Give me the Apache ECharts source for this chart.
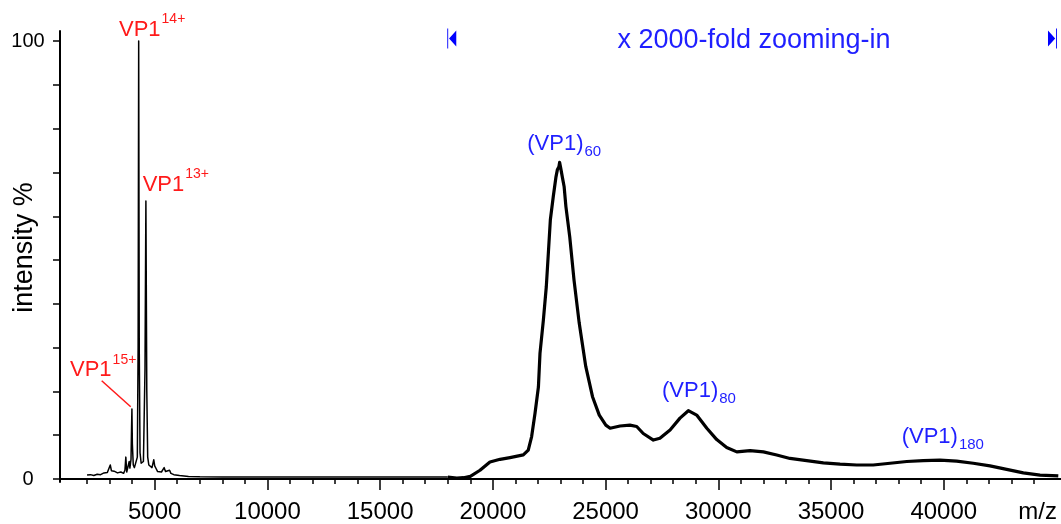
<!DOCTYPE html>
<html>
<head>
<meta charset="utf-8">
<title>VP1 native MS</title>
<script src="https://cdn.jsdelivr.net/npm/echarts@6/dist/echarts.min.js"></script>
<style>
html, body { margin: 0; padding: 0; background: #fff; }
#chart { width: 1061px; height: 524px; }
</style>
</head>
<body>
<div id="chart"></div>
<script>
// 低 m/z 区（原始强度 %）
const lowMz = [2000, 2150, 2300, 2450, 2600, 2750, 2900, 2980, 3030, 3080, 3200, 3350, 3500, 3620, 3680, 3720, 3760, 3830, 3870, 3900,
    3950, 3975, 3990, 4010, 4050, 4100, 4170, 4230, 4265, 4290, 4315, 4350, 4400, 4450, 4500, 4570, 4610, 4650, 4690, 4740,
    4800, 4880, 4960, 5000, 5060, 5130, 5200, 5300, 5420, 5480, 5560, 5660, 5720, 5850, 6100, 6500, 7000, 8000, 10000, 14000, 18000];
const lowInt = [0.9, 1.0, 0.8, 1.1, 1.0, 1.4, 1.5, 1.7, 3.2, 1.9, 1.8, 1.4, 1.6, 1.3, 2.0, 5.0, 1.6, 1.8, 4.0, 2.5,
    4.5, 12, 16, 8, 3.2, 2.6, 3.0, 5, 30, 100, 30, 6, 3.6, 3.2, 4, 25, 63.5, 20, 5, 3.2,
    2.8, 2.6, 4.4, 3.0, 2.4, 1.7, 1.9, 1.6, 2.6, 1.7, 1.7, 2.0, 1.3, 1.0, 0.8, 0.6, 0.5, 0.45, 0.45, 0.45, 0.45];

// 高 m/z 区（放大 2000 倍后的强度）
const highMz = [18000, 18400, 18700, 19000, 19430, 19870, 20320, 20760, 21350, 21570, 21720, 21870, 22020, 22090, 22240, 22370, 22460, 22550, 22680, 22800,
    22860, 22930, 22960, 23010, 23090, 23160, 23240, 23410, 23600, 23830, 24120, 24420, 24720, 25010, 25200, 25640, 26080, 26380, 26670, 27120,
    27410, 27860, 28300, 28670, 29040, 29490, 29930, 30370, 30820, 31410, 32000, 32590, 33180, 33920, 34660, 35400, 36140, 36870, 37620, 38360,
    39090, 39830, 40570, 41310, 42050, 42790, 43530, 44270, 45080];
const highInt = [0.45, 0.2, 0.3, 0.6, 2.0, 3.9, 4.5, 4.9, 5.5, 6.6, 9.7, 15.0, 21, 28.7, 36.3, 43.9, 51.5, 59.2, 64.5, 69.0,
    70.6, 71.3, 72.3, 71, 68.7, 66.8, 62.2, 55.3, 45.4, 35.6, 25.7, 18.8, 14.6, 12.3, 11.6, 12.1, 12.3, 12, 10.4, 8.9,
    9.3, 11.2, 13.9, 15.6, 14.6, 11.6, 9.0, 7.2, 6.2, 6.5, 6.2, 5.5, 4.7, 4.2, 3.7, 3.4, 3.2, 3.2, 3.6, 4.0,
    4.2, 4.3, 4.1, 3.6, 3.0, 2.2, 1.4, 0.9, 0.7];

// 坐标轴刻度
const xMinorTicks = [];
for (let v = 2000; v <= 44000; v += 1000) xMinorTicks.push(v);
const xLabelTicks = [5000, 10000, 15000, 20000, 25000, 30000, 35000, 40000];
const yTicks = [0, 10, 20, 30, 40, 50, 60, 70, 80, 90, 100];
const yLabelTicks = [0, 100];

// 放大区间
const zoomRange = [18000, 45000];
const zoomText = 'x 2000-fold zooming-in';
const zoomTextAt = [31583, 100.1];

// 单体电荷态标注（红）
const ionNames = ['VP1', 'VP1', 'VP1'];
const ionCharges = ['14+', '13+', '15+'];
const ionLabelMz = [3417, 4468, 1244];
const ionLabelInt = [102.5, 67.2, 24.8];
const leaderStart = [2650, 22.45];
const leaderEnd = [3936, 16.5];

// 组装体标注（蓝）
const asmNames = ['(VP1)', '(VP1)', '(VP1)'];
const asmCounts = ['60', '80', '180'];
const asmLabelMz = [21527, 27502, 38134];
const asmLabelInt = [76.4, 20.0, 9.5];

const FONT = '"Liberation Sans", Arial, sans-serif';
const RED = '#ff1a1a';
const BLUE = '#1f1fff';

function pairs(xs, ys) {
    const out = [];
    for (let i = 0; i < xs.length; i++) out.push([xs[i], ys[i]]);
    return out;
}

const chart = echarts.init(document.getElementById('chart'));

const option = {
    animation: false,
    backgroundColor: '#fff',
    grid: { left: 60, right: 0, top: 31, bottom: 42, containLabel: false, outerBoundsMode: 'none' },
    xAxis: [
        {
            type: 'value', min: 800, max: 45200, position: 'bottom',
            axisLine: { show: true, lineStyle: { color: '#000', width: 2 } },
            axisTick: { show: true, customValues: xMinorTicks, length: 5, lineStyle: { color: '#000', width: 1.5 } },
            axisLabel: { show: false },
            splitLine: { show: false }
        },
        {
            type: 'value', min: 800, max: 45200, position: 'bottom',
            axisLine: { show: false },
            axisTick: { show: true, customValues: xLabelTicks, length: 8, lineStyle: { color: '#000', width: 1.5 } },
            axisLabel: {
                customValues: xLabelTicks, fontSize: 24, fontFamily: FONT, color: '#000', margin: 18,
                formatter: function(v) { return String(v); }
            },
            splitLine: { show: false },
            name: 'm/z', nameLocation: 'end', nameGap: 0, nameMoveOverlap: false,
            nameTextStyle: { fontSize: 24, fontFamily: FONT, color: '#000', align: 'right', verticalAlign: 'top', padding: [18, 4, 0, 0] }
        }
    ],
    yAxis: {
        type: 'value', min: -0.68, max: 102.3,
        axisLine: { show: true, lineStyle: { color: '#000', width: 2 } },
        axisTick: { show: true, customValues: yTicks, length: 7, lineStyle: { color: '#000', width: 1.5 } },
        axisLabel: {
            customValues: yLabelTicks, fontSize: 20, fontFamily: FONT, color: '#000', align: 'center', margin: 32,
            formatter: function(v) { return String(v); }
        },
        splitLine: { show: false },
        name: 'intensity %', nameLocation: 'middle', nameGap: 22, nameMoveOverlap: false,
        nameTextStyle: { fontSize: 27, fontFamily: FONT, color: '#000', padding: [0, 0, 0, 18] }
    },
    series: [
        {
            name: 'low', type: 'line', data: pairs(lowMz, lowInt),
            symbol: 'none', xAxisIndex: 0, yAxisIndex: 0,
            lineStyle: { color: '#000', width: 1.5, join: 'round' },
            markLine: {
                silent: true, symbol: ['none', 'none'], animation: false,
                label: { show: false },
                lineStyle: { color: RED, width: 1.5, type: 'solid' },
                data: [[{ coord: leaderStart }, { coord: leaderEnd }]]
            }
        },
        {
            name: 'high', type: 'line', data: pairs(highMz, highInt),
            symbol: 'none', xAxisIndex: 0, yAxisIndex: 0,
            lineStyle: { color: '#000', width: 3.2, join: 'round' },
            markPoint: {
                silent: true, animation: false,
                label: { show: false },
                itemStyle: { color: '#0000ff' },
                data: [
                    { coord: [zoomRange[0], 100.6], symbol: 'path://M0,0H1V20H0Z M2,10L10,2V18Z', symbolSize: [9, 20], symbolOffset: [4, 0] },
                    { coord: [zoomRange[1], 100.6], symbol: 'path://M9,0H10V20H9Z M8,10L0,2V18Z', symbolSize: [9, 20], symbolOffset: [-4, 0] }
                ]
            }
        }
    ]
};

chart.setOption(option);

// 文字标注：按数据坐标换算到像素；上下标用 padding 偏移
const graphics = [];
for (let i = 0; i < ionNames.length; i++) {
    const p = chart.convertToPixel({ xAxisIndex: 0, yAxisIndex: 0 }, [ionLabelMz[i], ionLabelInt[i]]);
    graphics.push({
        type: 'text', x: p[0], y: p[1], silent: true,
        style: {
            text: '{m|' + ionNames[i] + '}{s|' + ionCharges[i] + '}',
            fill: RED, align: 'left', verticalAlign: 'middle',
            rich: {
                m: { fontSize: 22, fontFamily: FONT, fill: RED },
                s: { fontSize: 14, fontFamily: FONT, fill: RED, padding: [0, 0, 21, 1] }
            }
        }
    });
}
for (let i = 0; i < asmNames.length; i++) {
    const p = chart.convertToPixel({ xAxisIndex: 0, yAxisIndex: 0 }, [asmLabelMz[i], asmLabelInt[i]]);
    graphics.push({
        type: 'text', x: p[0], y: p[1], silent: true,
        style: {
            text: '{m|' + asmNames[i] + '}{s|' + asmCounts[i] + '}',
            fill: BLUE, align: 'left', verticalAlign: 'middle',
            rich: {
                m: { fontSize: 22, fontFamily: FONT, fill: BLUE },
                s: { fontSize: 15, fontFamily: FONT, fill: BLUE, padding: [15, 0, 0, 1] }
            }
        }
    });
}
const zp = chart.convertToPixel({ xAxisIndex: 0, yAxisIndex: 0 }, zoomTextAt);
graphics.push({
    type: 'text', x: zp[0], y: zp[1], silent: true,
    style: { text: zoomText, fill: BLUE, fontSize: 27, fontFamily: FONT, align: 'center', verticalAlign: 'middle' }
});

chart.setOption({ graphic: graphics });
</script>
</body>
</html>
